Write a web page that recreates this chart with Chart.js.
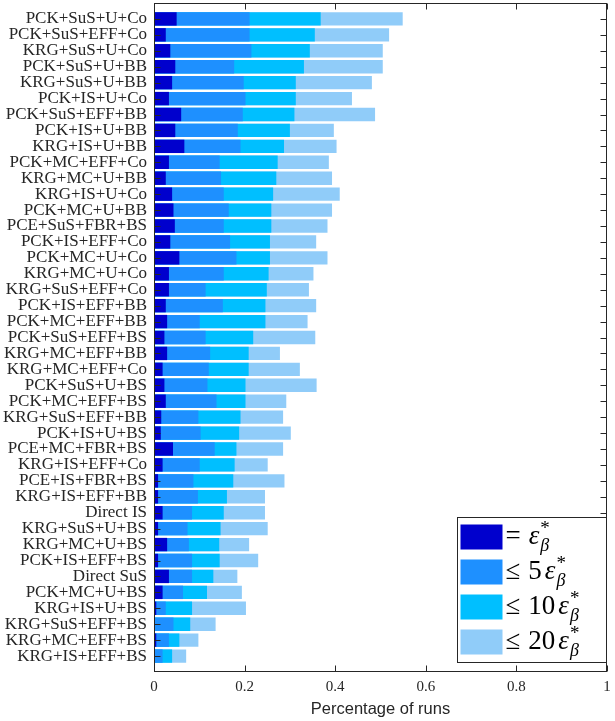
<!DOCTYPE html>
<html>
<head>
<meta charset="utf-8">
<script src="https://cdn.jsdelivr.net/npm/chart.js@4.4.1/dist/chart.umd.min.js"></script>
<style>
  html, body { margin: 0; padding: 0; background: #fff; }
  #wrap { width: 615px; height: 721px; }
</style>
</head>
<body>
<div id="wrap"><canvas id="c"></canvas></div>
<script>
// category order, top to bottom
const categories = [
  "PCK+SuS+U+Co", "PCK+SuS+EFF+Co", "KRG+SuS+U+Co", "PCK+SuS+U+BB", "KRG+SuS+U+BB",
  "PCK+IS+U+Co", "PCK+SuS+EFF+BB", "PCK+IS+U+BB", "KRG+IS+U+BB", "PCK+MC+EFF+Co",
  "KRG+MC+U+BB", "KRG+IS+U+Co", "PCK+MC+U+BB", "PCE+SuS+FBR+BS", "PCK+IS+EFF+Co",
  "PCK+MC+U+Co", "KRG+MC+U+Co", "KRG+SuS+EFF+Co", "PCK+IS+EFF+BB", "PCK+MC+EFF+BB",
  "PCK+SuS+EFF+BS", "KRG+MC+EFF+BB", "KRG+MC+EFF+Co", "PCK+SuS+U+BS", "PCK+MC+EFF+BS",
  "KRG+SuS+EFF+BB", "PCK+IS+U+BS", "PCE+MC+FBR+BS", "KRG+IS+EFF+Co", "PCE+IS+FBR+BS",
  "KRG+IS+EFF+BB", "Direct IS", "KRG+SuS+U+BS", "KRG+MC+U+BS", "PCK+IS+EFF+BS",
  "Direct SuS", "PCK+MC+U+BS", "KRG+IS+U+BS", "KRG+SuS+EFF+BS", "KRG+MC+EFF+BS",
  "KRG+IS+EFF+BS"
];

// share of runs (cumulative) reaching each error level
const exact = [
  0.050, 0.026, 0.036, 0.047, 0.040, 0.033, 0.060, 0.047, 0.067, 0.033,
  0.026, 0.040, 0.043, 0.046, 0.036, 0.056, 0.033, 0.033, 0.026, 0.029,
  0.023, 0.029, 0.019, 0.023, 0.026, 0.016, 0.015, 0.042, 0.019, 0.009,
  0.009, 0.019, 0.009, 0.029, 0.009, 0.033, 0.019, 0.005, 0.002, 0.005,
  0.002
];
const within5 = [
  0.211, 0.211, 0.215, 0.177, 0.198, 0.202, 0.196, 0.185, 0.191, 0.145,
  0.148, 0.154, 0.165, 0.154, 0.168, 0.182, 0.154, 0.114, 0.152, 0.101,
  0.114, 0.124, 0.121, 0.118, 0.138, 0.098, 0.103, 0.134, 0.101, 0.087,
  0.097, 0.084, 0.074, 0.077, 0.084, 0.084, 0.064, 0.026, 0.043, 0.033,
  0.019
];
const within10 = [
  0.368, 0.355, 0.344, 0.331, 0.313, 0.313, 0.310, 0.300, 0.287, 0.273,
  0.270, 0.263, 0.259, 0.259, 0.256, 0.256, 0.253, 0.249, 0.246, 0.246,
  0.219, 0.209, 0.209, 0.202, 0.202, 0.191, 0.188, 0.182, 0.178, 0.175,
  0.161, 0.154, 0.147, 0.144, 0.145, 0.131, 0.117, 0.084, 0.080, 0.056,
  0.040
];
const within20 = [
  0.549, 0.519, 0.505, 0.505, 0.481, 0.437, 0.488, 0.397, 0.403, 0.386,
  0.393, 0.410, 0.393, 0.383, 0.358, 0.383, 0.352, 0.342, 0.358, 0.339,
  0.356, 0.278, 0.322, 0.359, 0.292, 0.285, 0.302, 0.285, 0.251, 0.288,
  0.245, 0.245, 0.251, 0.210, 0.230, 0.184, 0.194, 0.203, 0.136, 0.098,
  0.071
];

const xTicks = [0, 0.2, 0.4, 0.6, 0.8, 1];
const seriesColors = ["#0000CD", "#1E90FF", "#00BFFF", "#90CCF9"];
const legendSymbols = ["=", "\u2264", "\u2264", "\u2264"];
const legendFactors = ["", "5", "10", "20"];

const AXIS = "#262626";
const SERIF = "'Liberation Serif', 'DejaVu Serif', serif";

/* inward tick marks + box, MATLAB style */
const axesFrame = {
  id: "axesFrame",
  afterDatasetsDraw(chart) {
    const { ctx, chartArea: a, scales } = chart;
    const L = Math.round(a.left) + 0.5, R = Math.round(a.right) - 0.5;
    const T = Math.round(a.top) + 0.5, B = Math.round(a.bottom) - 0.5;
    ctx.save();
    ctx.strokeStyle = AXIS;
    ctx.lineWidth = 1;
    ctx.beginPath();
    scales.x.ticks.forEach(t => {
      const px = Math.round(scales.x.getPixelForValue(t.value)) + 0.5;
      ctx.moveTo(px, B); ctx.lineTo(px, B - 6);
      ctx.moveTo(px, T); ctx.lineTo(px, T + 6);
    });
    scales.y.ticks.forEach(t => {
      const py = Math.round(scales.y.getPixelForValue(t.value)) + 0.5;
      ctx.moveTo(L, py); ctx.lineTo(L + 6, py);
      ctx.moveTo(R, py); ctx.lineTo(R - 6, py);
    });
    ctx.stroke();
    ctx.strokeRect(L, T, R - L, B - T);
    ctx.restore();
  }
};

/* legend box with eps*_beta text */
const mathLegend = {
  id: "mathLegend",
  afterDraw(chart) {
    const { ctx, chartArea: a } = chart;
    const w = 149, h = 145;
    const bx = Math.round(a.right) - 1 - w + 0.5;
    const by = Math.round(a.bottom) - 10 - h + 0.5;
    ctx.save();
    ctx.fillStyle = "#fff";
    ctx.fillRect(bx, by, w, h);
    ctx.strokeStyle = AXIS;
    ctx.lineWidth = 1;
    ctx.strokeRect(bx, by, w, h);

    chart.data.datasets.forEach((d, i) => {
      const top = by + 7 + i * 35;
      ctx.fillStyle = d.backgroundColor;
      ctx.fillRect(bx + 3, top, 42, 25);

      const base = top + 19;
      let x = bx + 48;
      ctx.fillStyle = "#000";
      ctx.textBaseline = "alphabetic";
      ctx.textAlign = "left";
      ctx.font = "27px " + SERIF;
      ctx.fillText(legendSymbols[i], x, base);
      x += ctx.measureText(legendSymbols[i]).width + 8;
      if (legendFactors[i]) {
        ctx.fillText(legendFactors[i], x, base);
        x += ctx.measureText(legendFactors[i]).width + 3;
      }
      ctx.font = "italic 27px " + SERIF;
      ctx.fillText("\u03B5", x, base);
      x += ctx.measureText("\u03B5").width + 1;
      ctx.font = "19px " + SERIF;
      ctx.fillText("*", x, base - 10);
      ctx.font = "italic 18px " + SERIF;
      ctx.fillText("\u03B2", x, base + 7);
    });
    ctx.restore();
  }
};

const makeSet = (label, vals, i) => ({
  label,
  data: vals.map((v, k) => ({ x: v, y: k + 1 })),
  backgroundColor: seriesColors[i],
  borderWidth: 0,
  grouped: false,
  barPercentage: 0.84,
  categoryPercentage: 1
});

new Chart(document.getElementById("c"), {
  type: "bar",
  data: {
    datasets: [
      makeSet("= eps", exact, 0),
      makeSet("<= 5 eps", within5, 1),
      makeSet("<= 10 eps", within10, 2),
      makeSet("<= 20 eps", within20, 3)
    ]
  },
  options: {
    indexAxis: "y",
    responsive: true,
    maintainAspectRatio: false,
    animation: false,
    layout: { padding: { left: 0, right: 8, top: 3, bottom: 0 } },
    scales: {
      x: {
        type: "linear",
        min: 0,
        max: 1,
        afterBuildTicks: s => { s.ticks = xTicks.map(v => ({ value: v })); },
        ticks: { color: AXIS, font: { family: SERIF, size: 15 }, padding: 6, maxRotation: 0,
                 callback: v => String(v) },
        grid: { display: false, drawTicks: false },
        border: { display: false },
        title: { display: true, text: "Percentage of runs", color: AXIS,
                 font: { family: "'Liberation Sans', Arial, sans-serif", size: 16.5 },
                 padding: { top: 0, bottom: 2 } },
        afterFit: s => { s.height = 49; s.paddingLeft = 0; s.paddingRight = 0; }
      },
      y: {
        type: "linear",
        reverse: true,
        offset: false,
        min: 0,
        max: categories.length + 1,
        afterBuildTicks: s => { s.ticks = categories.map((_, k) => ({ value: k + 1 })); },
        ticks: { color: AXIS, font: { family: SERIF, size: 17 }, padding: 7, autoSkip: false,
                 callback: v => categories[v - 1] },
        grid: { display: false, drawTicks: false, offset: false },
        border: { display: false },
        afterFit: s => { s.width = 154; s.paddingTop = 0; s.paddingBottom = 0; }
      }
    },
    plugins: {
      legend: { display: false },
      tooltip: { enabled: false }
    }
  },
  plugins: [axesFrame, mathLegend]
});
</script>
</body>
</html>
